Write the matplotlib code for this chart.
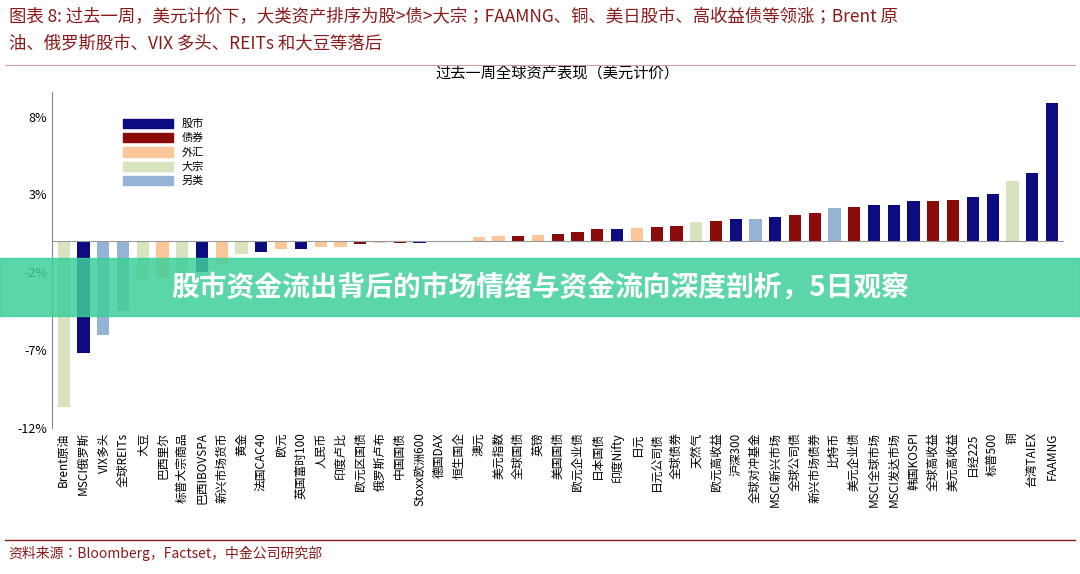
import matplotlib.pyplot as plt
from matplotlib.patches import Patch
import matplotlib.patches as mpatches

plt.rcParams['font.family'] = ['Noto Sans CJK SC', 'Noto Sans CJK JP']

labels = ['Brent原油', 'MSCI俄罗斯', 'VIX多头', '全球REITs', '大豆', '巴西里尔', '标普大宗商品',
          '巴西IBOVSPA', '新兴市场货币', '黄金', '法国CAC40', '欧元', '英国富时100', '人民币',
          '印度卢比', '欧元区国债', '俄罗斯卢布', '中国国债', 'Stoxx欧洲600', '德国DAX', '恒生国企',
          '澳元', '美元指数', '全球国债', '英镑', '美国国债', '欧元企业债', '日本国债', '印度Nifty',
          '日元', '日元公司债', '全球债券', '天然气', '欧元高收益', '沪深300', '全球对冲基金',
          'MSCI新兴市场', '全球公司债', '新兴市场债券', '比特币', '美元企业债', 'MSCI全球市场',
          'MSCI发达市场', '韩国KOSPI', '全球高收益', '美元高收益', '日经225', '标普500', '铜',
          '台湾TAIEX', 'FAAMNG']
values = [-10.7, -7.2, -6.05, -4.5, -2.6, -2.4, -2.3, -2.0, -1.5, -0.8, -0.7, -0.5, -0.5, -0.4,
          -0.35, -0.2, -0.15, -0.12, -0.1, -0.06, -0.03, 0.25, 0.3, 0.35, 0.4, 0.45, 0.6, 0.75,
          0.8, 0.85, 0.9, 1.0, 1.2, 1.3, 1.4, 1.45, 1.55, 1.7, 1.8, 2.1, 2.2, 2.3, 2.35, 2.6,
          2.6, 2.65, 2.85, 3.05, 3.85, 4.35, 8.85]
kinds = ['大宗', '股市', '另类', '另类', '大宗', '外汇', '大宗', '股市', '外汇', '大宗', '股市',
         '外汇', '股市', '外汇', '外汇', '债券', '外汇', '债券', '股市', '股市', '股市', '外汇',
         '外汇', '债券', '外汇', '债券', '债券', '债券', '股市', '外汇', '债券', '债券', '大宗',
         '债券', '股市', '另类', '股市', '债券', '债券', '另类', '债券', '股市', '股市', '股市',
         '债券', '债券', '股市', '股市', '大宗', '股市', '股市']
kind_order = ['股市', '债券', '外汇', '大宗', '另类']
kind_colors = {'股市': '#0c0c80', '债券': '#8b0a0a', '外汇': '#fbc799',
               '大宗': '#d7e4bd', '另类': '#95b3d7'}

fig = plt.figure(figsize=(10.8, 5.74), dpi=100)
fig.text(0.008, 0.985, '图表 8: 过去一周，美元计价下，大类资产排序为股>债>大宗；FAAMNG、铜、美日股市、高收益债等领涨；Brent 原',
         color='#8b1a1a', fontsize=12.5, style='italic', va='top')
fig.text(0.008, 0.94, '油、俄罗斯股市、VIX 多头、REITs 和大豆等落后',
         color='#8b1a1a', fontsize=12.5, style='italic', va='top')
fig.add_artist(plt.Line2D([0.005, 0.995], [0.887, 0.887], color='#c9a0a0', lw=0.8))
fig.add_artist(plt.Line2D([0.005, 0.995], [0.06, 0.06], color='#8b1a1a', lw=1))
fig.text(0.008, 0.048, '资料来源：Bloomberg，Factset，中金公司研究部', color='#8b1a1a',
         fontsize=10, style='italic', va='top')

ax = fig.add_axes([0.048, 0.255, 0.937, 0.585])
x = range(len(labels))
ax.bar(x, values, width=0.62, color=[kind_colors[k] for k in kinds])
ax.set_ylim(-12, 9.6)
ax.set_yticks([8, 3, -2, -7, -12])
ax.set_yticklabels(['8%', '3%', '-2%', '-7%', '-12%'], fontsize=9)
ax.set_xlim(-0.6, len(labels) - 0.4)
ax.set_xticks([])
ax.axhline(0, color='#999999', lw=0.8)
for s in ['top', 'right', 'bottom']:
    ax.spines[s].set_visible(False)
ax.spines['left'].set_color('#888888')
ax.tick_params(axis='y', length=0)
ax.set_title('过去一周全球资产表现（美元计价）', fontsize=11, pad=10)
for i, lab in enumerate(labels):
    ax.text(i, -12.3, lab, rotation=90, ha='center', va='top', fontsize=8.5)
ax.legend(handles=[Patch(color=kind_colors[k], label=k) for k in kind_order],
          loc='upper left', bbox_to_anchor=(0.06, 0.95), frameon=False, fontsize=8,
          handlelength=4.5, handleheight=0.9, labelspacing=0.35)

# green overlay banner across the chart
fig.add_artist(mpatches.Rectangle((0, 0.45), 1, 0.1, transform=fig.transFigure,
                                  color='#3ecf9a', alpha=0.85, zorder=10))
fig.text(0.5, 0.5, '股市资金流出背后的市场情绪与资金流向深度剖析，5日观察', color='white',
         fontsize=20, weight='bold', ha='center', va='center', zorder=11)

fig.savefig('out.png', dpi=100)
